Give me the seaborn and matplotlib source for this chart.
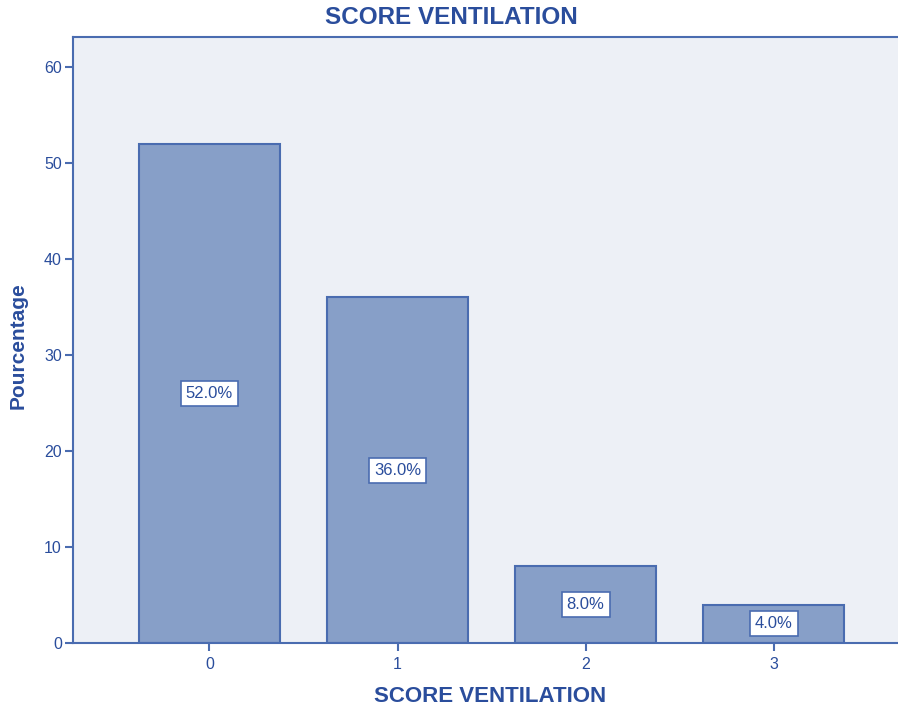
import matplotlib
matplotlib.use("Agg")
import matplotlib.pyplot as plt
import seaborn as sns
import pandas as pd

categories = ["0", "1", "2", "3"]
percentages = [52.0, 36.0, 8.0, 4.0]
yticks = [0, 10, 20, 30, 40, 50, 60]

TXT = "#2a4d9c"
EDGE = "#4a6cb0"
FILL = "#879fc8"
BG = "#edf0f6"

sns.set_theme(style="white")
plt.rcParams['font.family'] = ['Liberation Sans', 'DejaVu Sans']

df = pd.DataFrame({"score": categories, "pct": percentages})

fig = plt.figure(figsize=(8.98, 7.15), dpi=100)
ax = fig.add_axes([73/898, 72/715, 1 - 73/898, (643-37)/715])
ax.set_facecolor(BG)

sns.barplot(data=df, x="score", y="pct", ax=ax, color=FILL, width=0.75,
            edgecolor=EDGE, linewidth=1.5, saturation=1)

ax.set_xlim(-0.725, 3.66)
ax.set_ylim(0, 63.1)
ax.set_yticks(yticks)

for i, v in enumerate(percentages):
    ax.text(i, v / 2, f"{v:.1f}%", ha="center", va="center", fontsize=12,
            color=TXT,
            bbox=dict(boxstyle="square,pad=0.3", facecolor="white",
                      edgecolor=EDGE, linewidth=1.2))

for side in ["left", "bottom", "top"]:
    ax.spines[side].set_visible(True)
    ax.spines[side].set_color(EDGE)
    ax.spines[side].set_linewidth(1.5)
ax.spines["right"].set_visible(False)

ax.tick_params(axis="both", which="both", direction="out", length=6, width=1.5,
               color=EDGE, labelcolor=TXT, labelsize=11.5, pad=2)
ax.tick_params(axis="x", pad=4)
ax.tick_params(left=True, bottom=True)

ax.set_xlabel("SCORE VENTILATION", fontsize=16, fontweight="bold", color=TXT)
ax.xaxis.set_label_coords((490 - 73) / 825, -(697 - 643) / 606, transform=ax.transAxes)
ax.xaxis.label.set_va("center")
ax.set_ylabel("Pourcentage", fontsize=15, fontweight="bold", color=TXT)
ax.yaxis.set_label_coords(-(73 - 18) / 825, (643 - 346) / 606, transform=ax.transAxes)
ax.yaxis.label.set_va("center")
fig.text(451/898, 1 - 18/715, "SCORE VENTILATION", ha="center", va="center",
         fontsize=17.5, fontweight="bold", color=TXT)

fig.savefig("out.png", dpi=100, facecolor="white")
